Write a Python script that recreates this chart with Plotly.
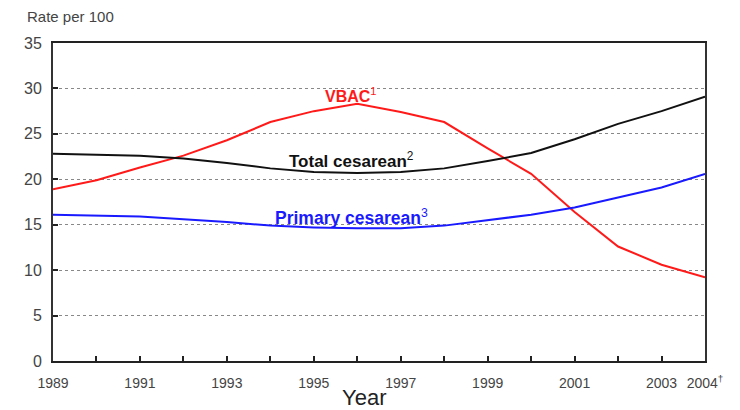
import plotly.graph_objects as go

years = list(range(1989, 2005))
vbac = [18.9, 19.9, 21.3, 22.6, 24.3, 26.3, 27.5, 28.3, 27.4, 26.3, 23.4, 20.6, 16.4, 12.6, 10.6, 9.2]
total_cesarean = [22.8, 22.7, 22.6, 22.3, 21.8, 21.2, 20.8, 20.7, 20.8, 21.2, 22.0, 22.9, 24.4, 26.1, 27.5, 29.1]
primary_cesarean = [16.1, 16.0, 15.9, 15.6, 15.3, 14.9, 14.7, 14.6, 14.6, 14.9, 15.5, 16.1, 16.9, 18.0, 19.1, 20.6]
tick_text = ["1989", "", "1991", "", "1993", "", "1995", "", "1997", "", "1999", "", "2001", "", "2003", "2004<sup>\u2020</sup>"]
y_ticks = [0, 5, 10, 15, 20, 25, 30, 35]

fig = go.Figure()
fig.add_trace(go.Scatter(x=years, y=vbac, mode="lines", line=dict(color="#ff1a1a", width=2), name="VBAC"))
fig.add_trace(go.Scatter(x=years, y=total_cesarean, mode="lines", line=dict(color="#111111", width=2), name="Total cesarean"))
fig.add_trace(go.Scatter(x=years, y=primary_cesarean, mode="lines", line=dict(color="#1a1aff", width=2), name="Primary cesarean"))

fig.add_annotation(x=1995.86, y=29.3, text="<b>VBAC</b><sup>1</sup>", showarrow=False,
                   font=dict(color="#ff1a1a", size=16))
fig.add_annotation(x=1995.86, y=22.1, text="<b>Total cesarean</b><sup>2</sup>", showarrow=False,
                   font=dict(color="#111111", size=17))
fig.add_annotation(x=1995.86, y=15.8, text="<b>Primary cesarean</b><sup>3</sup>", showarrow=False,
                   font=dict(color="#1a1aff", size=17.5))

fig.add_annotation(xref="paper", yref="paper", x=-0.043, y=1.05, xanchor="left", yanchor="bottom",
                   text="Rate per 100", showarrow=False, font=dict(size=15, color="#444"))
fig.add_annotation(xref="paper", yref="paper", x=0.477, y=-0.115, xanchor="center", yanchor="middle",
                   text="Year", showarrow=False, font=dict(size=22, color="#222"))

fig.update_layout(
    width=732, height=402,
    margin=dict(l=45, r=35, t=35, b=49, autoexpand=False),
    paper_bgcolor="white", plot_bgcolor="white",
    showlegend=False,
    font=dict(family="Liberation Sans, Arial, sans-serif", color="#444"),
    xaxis=dict(
        range=[1989, 2004], tickmode="array", tickvals=years, ticktext=tick_text,
        ticks="inside", ticklen=5, tickwidth=1.5, tickcolor="#222",
        showline=True, linecolor="#222", linewidth=2, mirror=True,
        showgrid=False, zeroline=False, tickfont=dict(size=14, color="#444"),
        ticklabelstandoff=8, automargin=False,
    ),
    yaxis=dict(
        range=[0, 35], tickmode="array", tickvals=y_ticks,
        ticks="inside", ticklen=5, tickwidth=1.5, tickcolor="#222",
        showline=True, linecolor="#333", linewidth=2, mirror=True,
        showgrid=True, gridcolor="#888", griddash="dot", gridwidth=1,
        zeroline=False, tickfont=dict(size=16, color="#444"),
        ticklabelstandoff=6, automargin=False,
    ),
)

fig.write_html("out.html")
